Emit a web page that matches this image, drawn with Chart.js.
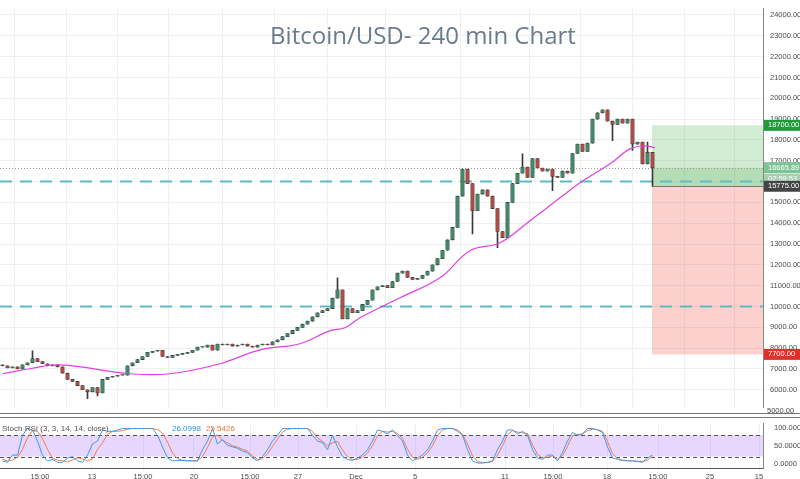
<!DOCTYPE html>
<html>
<head>
<meta charset="utf-8">
<script src="https://cdn.jsdelivr.net/npm/chart.js@4"></script>
<style>
  html, body { margin: 0; padding: 0; background: #fff; }
  #wrap { position: relative; width: 800px; height: 479px; }
  #main { position: absolute; left: 0; top: 0; }
  #stoch { position: absolute; left: 0; top: 416px; }
  #title { position: absolute; left: 0; width: 846px; top: 18px; text-align: center;
    font-family: "Open Sans", sans-serif; font-size: 24px; color: #6b7b8d; pointer-events: none; }
</style>
</head>
<body>
<div id="wrap">
  <canvas id="main" width="800" height="416"></canvas>
  <canvas id="stoch" width="800" height="63"></canvas>
  <div id="title">Bitcoin/USD- 240 min Chart</div>
</div>
<script>
// 收盤價 (每根 4 小時 K 線)
const closes = [
  7150, 7050, 7100, 7000, 7200, 7300, 7500, 7350, 7250, 7150,
  7200, 7100, 6800, 6500, 6400, 6200, 6000, 5900, 6100, 5850,
  6500, 6600, 6650, 6700, 6700, 7150, 7300, 7450, 7600, 7800,
  7850, 7900, 7600, 7550, 7650, 7700, 7750, 7800, 7900, 8050,
  8050, 8150, 7900, 8200, 8150, 8200, 8100, 8150, 8200, 8100,
  8050, 8150, 8200, 8150, 8300, 8400, 8550, 8700, 8850, 9000,
  9150, 9300, 9500, 9700, 9800, 9900, 10400, 10800, 9400, 9900,
  9700, 9800, 10100, 10300, 10800, 10950, 11000, 10900, 11200, 11600,
  11700, 11400, 11300, 11350, 11500, 11700, 12000, 12300, 12700, 13200,
  13800, 15300, 16600, 15900, 14600, 15400, 15600, 15300, 14700, 13600,
  13300, 15000, 15900, 16400, 16700, 16200, 17100, 16650, 16500, 16600,
  16250, 16200, 16500, 16400, 17350, 17800, 17450, 17850, 19000, 19300,
  19450, 18900, 18750, 19000, 18800, 19000, 17800, 17900, 16850, 17400,
  16666
];
const firstOpen = 7200;
// 明顯的上下影線 [index, high, low]
const spikes = [
  [6, 7870, null], [17, null, 5570], [19, null, 5700], [67, 11380, null],
  [94, null, 13490], [99, null, 12820], [104, 17330, null], [110, null, 15560],
  [122, null, 17960], [126, null, 17500], [129, 17900, null], [130, null, 15775]
];
// 均線 (index, 價格)
const maIdx = [0, 5.5, 11.5, 25.5, 33.5, 43.5, 51.5, 59.5, 65.5, 68.5, 71.5, 79.5, 87.5, 93.5, 99.5, 105.5, 111.5, 115.5, 121.5, 125.5, 128.5, 130.5];
const maVal = [6770, 7010, 7200, 6770, 6770, 7250, 7920, 8210, 8840, 8980, 9460, 10420, 11380, 12680, 13060, 14120, 15220, 15940, 16850, 17570, 17710, 17620];
// Stoch RSI
const stochK = [
  8, 4, 24, 24, 79, 98, 94, 63, 24, 8, 12, 4, 4, 16, 20, 8, 4, 24, 55, 63,
  94, 90, 90, 94, 98, 98, 98, 98, 98, 98, 98, 79, 47, 16, 8, 9, 9, 8, 8, 8,
  39, 63, 98, 55, 67, 51, 47, 43, 35, 31, 16, 8, 20, 39, 63, 79, 98, 98, 98, 98,
  98, 98, 79, 63, 59, 39, 79, 47, 20, 12, 9, 16, 24, 39, 63, 94, 90, 83, 94, 79,
  63, 24, 8, 16, 24, 39, 63, 94, 98, 98, 98, 90, 79, 39, 8, 2, 2, 4, 8, 39,
  63, 94, 94, 83, 90, 79, 39, 16, 12, 24, 24, 8, 31, 63, 87, 79, 83, 98, 98, 94,
  87, 47, 16, 12, 9, 8, 8, 6, 4, 16, 24
];
const stochD = [
  12, 8, 10, 18, 40, 72, 92, 90, 70, 40, 15, 10, 8, 6, 10, 16, 14, 8, 14, 40,
  58, 82, 90, 90, 92, 96, 98, 98, 98, 98, 98, 95, 85, 60, 30, 14, 10, 9, 8, 8,
  20, 45, 75, 80, 65, 58, 50, 46, 40, 35, 22, 12, 14, 28, 48, 68, 88, 96, 98, 98,
  98, 98, 90, 72, 62, 50, 58, 62, 38, 20, 12, 12, 18, 30, 50, 78, 90, 88, 90, 84,
  70, 40, 18, 12, 18, 30, 50, 78, 94, 98, 98, 94, 82, 55, 22, 6, 3, 3, 6, 24,
  50, 80, 92, 88, 86, 84, 52, 26, 16, 18, 22, 14, 22, 48, 78, 82, 82, 92, 96, 95,
  90, 62, 28, 14, 10, 9, 8, 7, 6, 10, 20
];
// X 軸刻度
const tickPos = [7.5, 17.9, 28.1, 38.3, 49.5, 59.1, 70.7, 82.5, 100.5, 110.1, 120.9, 131.1, 141.5, 151.3];
const tickText = ['15:00', '13', '15:00', '20', '15:00', '27', 'Dec', '5', '11', '15:00', '18', '15:00', '25', '15'];
// 價格軸刻度
const priceTicks = [5000, 6000, 7000, 8000, 9000, 10000, 11000, 12000, 13000, 14000, 15000,
    16000, 17000, 18000, 19000, 20000, 21000, 22000, 23000, 24000];
// 水平線與區塊
const dashLevels = [16000, 10000];
const lastPrice = 16665.89;
const targetPrice = 18700;
const entryPrice = 15775;
const stopPrice = 7700;
const boxStart = 129.9;

const X_MIN = -0.5, X_MAX = 152.1;
const GRID = '#eef0f3';
const TICK_FONT = { size: 7.5, family: 'Liberation Sans' };

const opens = closes.map((c, i) => i === 0 ? firstOpen : closes[i - 1]);
const bodies = closes.map((c, i) => ({ x: i, y: [opens[i], c] }));
const wicks = closes.map((c, i) => {
    let hi = Math.max(opens[i], c), lo = Math.min(opens[i], c);
    spikes.forEach(s => { if (s[0] === i) { if (s[1]) hi = s[1]; if (s[2]) lo = s[2]; } });
    return { x: i, y: [lo, hi] };
});
const bodyColors = closes.map((c, i) => c >= opens[i] ? '#3f8a66' : '#b04a42');

function xTicks(scale) { scale.ticks = tickPos.map(v => ({ value: v })); }

const overlayPlugin = {
    id: 'overlay',
    beforeDatasetsDraw(chart) {
        const { ctx, chartArea: a, scales: { x, y } } = chart;
        const bx = x.getPixelForValue(boxStart);
        ctx.save();
        ctx.fillStyle = 'rgba(76,175,80,0.25)';
        ctx.fillRect(bx, y.getPixelForValue(targetPrice), a.right - bx, y.getPixelForValue(lastPrice) - y.getPixelForValue(targetPrice));
        ctx.fillStyle = 'rgba(76,175,80,0.42)';
        ctx.fillRect(bx, y.getPixelForValue(lastPrice), a.right - bx, y.getPixelForValue(entryPrice) - y.getPixelForValue(lastPrice));
        ctx.fillStyle = 'rgba(244,67,54,0.25)';
        ctx.fillRect(bx, y.getPixelForValue(entryPrice), a.right - bx, y.getPixelForValue(stopPrice) - y.getPixelForValue(entryPrice));
        ctx.strokeStyle = '#777'; ctx.lineWidth = 1;
        const ey = Math.round(y.getPixelForValue(entryPrice)) + 0.5;
        ctx.beginPath(); ctx.moveTo(bx, ey); ctx.lineTo(a.right, ey); ctx.stroke();
        // 最新價虛線
        ctx.strokeStyle = '#999'; ctx.setLineDash([1, 2]);
        const ly = Math.round(y.getPixelForValue(lastPrice)) + 0.5;
        ctx.beginPath(); ctx.moveTo(a.left, ly); ctx.lineTo(a.right, ly); ctx.stroke();
        // 水平虛線
        ctx.strokeStyle = '#5cbcc2'; ctx.lineWidth = 2; ctx.setLineDash([12, 8]);
        dashLevels.forEach(v => {
            const py = y.getPixelForValue(v);
            ctx.beginPath(); ctx.moveTo(a.left, py); ctx.lineTo(a.right, py); ctx.stroke();
        });
        ctx.restore();
    },
    afterDraw(chart) {
        const { ctx, chartArea: a, scales: { y } } = chart;
        ctx.save();
        ctx.font = '7.5px "Liberation Sans", sans-serif';
        ctx.textBaseline = 'middle';
        ctx.fillStyle = '#4a4a4a';
        ctx.fillText('5000.00', a.right + 4, y.getPixelForValue(5000));
        const tag = (v, text, bg) => {
            const py = y.getPixelForValue(v);
            ctx.fillStyle = bg; ctx.fillRect(a.right + 1, py - 5.5, 38, 11);
            ctx.fillStyle = '#fff'; ctx.fillText(text, a.right + 5, py);
        };
        tag(targetPrice, '18700.00', '#1f9b3a');
        tag(lastPrice, '16665.89', '#7cc496');
        tag(lastPrice - 550, '02:59:53', '#a8cfb2');
        tag(entryPrice, '15775.00', '#444');
        tag(stopPrice, '7700.00', '#e0302a');
        ctx.strokeStyle = '#777'; ctx.lineWidth = 1;
        ctx.beginPath(); ctx.moveTo(0, 413.5); ctx.lineTo(800, 413.5); ctx.stroke();
        ctx.restore();
    }
};

new Chart(document.getElementById('main'), {
    data: {
        datasets: [
            { type: 'line', label: 'MA', data: maIdx.map((v, i) => ({ x: v, y: maVal[i] })),
              borderColor: '#e23fe0', borderWidth: 1.2, pointRadius: 0, tension: 0.4, order: 0 },
            { type: 'bar', label: 'wick', data: wicks, backgroundColor: '#3a3a3a',
              barThickness: 1, grouped: false, order: 2 },
            { type: 'bar', label: 'body', data: bodies, backgroundColor: bodyColors,
              borderColor: '#333', borderWidth: 0.6, borderSkipped: false,
              barThickness: 3.6, minBarLength: 1, grouped: false, order: 1 }
        ]
    },
    options: {
        responsive: false, animation: false,
        layout: { padding: { top: -5.5, bottom: -12 } },
        plugins: { legend: { display: false }, tooltip: { enabled: false } },
        scales: {
            x: {
                type: 'linear', min: X_MIN, max: X_MAX, offset: false,
                afterBuildTicks: xTicks,
                afterFit: s => { s.height = 0; },
                ticks: { display: false },
                grid: { color: GRID, drawTicks: false },
                border: { display: false }
            },
            y: {
                position: 'right', min: 5149, max: 24312,
                // 5000 在範圍外，標籤由 plugin 補畫
                afterBuildTicks: s => {
                    s.ticks = priceTicks.filter(v => v >= s.min && v <= s.max).map(v => ({ value: v }));
                },
                afterFit: s => { s.width = 37; },
                ticks: { color: '#4a4a4a', font: TICK_FONT, padding: 4,
                         callback: v => v.toFixed(2) },
                grid: { color: GRID, drawTicks: true, tickLength: 3 },
                border: { color: '#888' }
            }
        }
    },
    plugins: [overlayPlugin]
});

const stochPlugin = {
    id: 'stochBand',
    beforeDatasetsDraw(chart) {
        const { ctx, chartArea: a, scales: { y } } = chart;
        ctx.save();
        ctx.fillStyle = 'rgba(170,110,255,0.28)';
        ctx.fillRect(a.left, y.getPixelForValue(80), a.width, y.getPixelForValue(20) - y.getPixelForValue(80));
        ctx.strokeStyle = '#555'; ctx.lineWidth = 1; ctx.setLineDash([4, 3]);
        [80, 20].forEach(v => {
            const py = Math.round(y.getPixelForValue(v)) + 0.5;
            ctx.beginPath(); ctx.moveTo(a.left, py); ctx.lineTo(a.right, py); ctx.stroke();
        });
        ctx.setLineDash([]);
        ctx.strokeStyle = '#777';
        ctx.beginPath(); ctx.moveTo(0, 1.5); ctx.lineTo(800, 1.5); ctx.stroke();
        ctx.restore();
    },
    afterDraw(chart) {
        const { ctx } = chart;
        ctx.save();
        ctx.font = '8px "Liberation Sans", sans-serif';
        ctx.textBaseline = 'middle';
        ctx.fillStyle = '#555'; ctx.fillText('Stoch RSI (3, 3, 14, 14, close)', 2, 13);
        ctx.fillStyle = '#2196f3'; ctx.fillText('26.0998', 172, 13);
        ctx.fillStyle = '#f4743b'; ctx.fillText('25.5426', 206, 13);
        ctx.restore();
    }
};

new Chart(document.getElementById('stoch'), {
    type: 'line',
    data: {
        datasets: [
            { label: 'K', data: stochK.map((v, i) => ({ x: i, y: v })), borderColor: '#3d9be9',
              borderWidth: 1, pointRadius: 0, tension: 0 },
            { label: 'D', data: stochD.map((v, i) => ({ x: i, y: v })), borderColor: '#f07a50',
              borderWidth: 1, pointRadius: 0, tension: 0 }
        ]
    },
    options: {
        responsive: false, animation: false,
        layout: { padding: 0 },
        plugins: { legend: { display: false }, tooltip: { enabled: false } },
        scales: {
            x: {
                type: 'linear', min: X_MIN, max: X_MAX,
                afterBuildTicks: xTicks,
                afterFit: s => { s.height = 11; },
                ticks: { color: '#4a4a4a', font: TICK_FONT, padding: 1,
                         maxRotation: 0, autoSkip: false,
                         callback: (v, i) => tickText[i] },
                grid: { color: GRID, tickLength: 3 },
                border: { color: '#555' }
            },
            y: {
                position: 'right', min: -11.9, max: 111.9,
                afterBuildTicks: s => { s.ticks = [{ value: 0 }, { value: 50 }, { value: 100 }]; },
                afterFit: s => { s.width = 37; },
                ticks: { color: '#4a4a4a', font: TICK_FONT, padding: 3,
                         callback: v => v.toFixed(4) },
                grid: { display: false },
                border: { color: '#888' }
            }
        }
    },
    plugins: [stochPlugin]
});
</script>
</body>
</html>
